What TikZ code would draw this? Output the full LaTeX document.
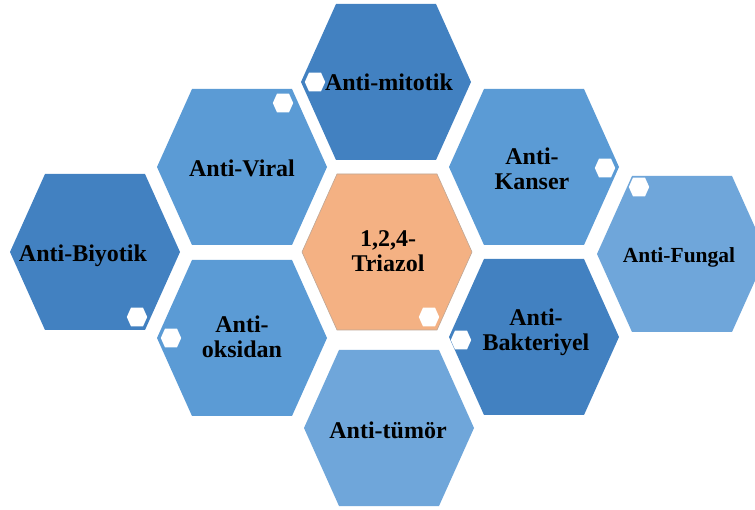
\documentclass[tikz,border=0pt]{standalone}
\usepackage{fontspec}
\setmainfont{Liberation Serif}

\definecolor{hexdark}{RGB}{66,129,193}
\definecolor{hexmid}{RGB}{91,155,213}
\definecolor{hexlight}{RGB}{111,166,218}
\definecolor{hexpeach}{RGB}{244,177,131}

\begin{document}
\begin{tikzpicture}[x=1pt,y=-1pt]
        \tikzstyle{hextext}=[font=\bfseries\fontsize{24}{25}\selectfont, align=center, text=black, inner sep=0pt]
        \tikzset{hexcell/.pic={\path[pic actions] (-85,0) -- (-50,-78) -- (50,-78) -- (85,0) -- (50,78) -- (-50,78) -- cycle;}}
        \clip (0,0) rectangle (755,510);
        \fill[white] (0,0) rectangle (755,510);
        % big cells
        \pic[fill=hexdark] at (386,82) {hexcell};
        \pic[fill=hexmid] at (242,167) {hexcell};
        \pic[fill=hexmid] at (534,167) {hexcell};
        \pic[fill=hexdark] at (95,252) {hexcell};
        \pic[fill=hexpeach, draw=hexpeach!60!black!60, line width=0.6pt] at (387,252) {hexcell};
        \pic[fill=hexlight] at (682,254) {hexcell};
        \pic[fill=hexmid] at (242,338) {hexcell};
        \pic[fill=hexdark] at (534,337) {hexcell};
        \pic[fill=hexlight] at (389,428) {hexcell};
        % small white cells
        \foreach \px/\py in {315/82, 283/103, 605/168, 137/317, 429/317, 639/187, 171/338, 461/340}
          \pic[fill=white, scale=0.12] at (\px,\py) {hexcell};
        % texts
        \node[hextext] (mitotik) at (389,82) {Anti-mitotik};
        \node[hextext] (viral) at (242,168) {Anti-Viral};
        \node[hextext] (kanser) at (532,169) {Anti-\\Kanser};
        \node[hextext] (biyotik) at (83,256) {Anti-Biyotik};
        \node[hextext] (triazol) at (388,251) {1,2,4-\\Triazol};
        \node[hextext, font=\bfseries\fontsize{21.5}{23}\selectfont] (fungal) at (679,257) {Anti-Fungal};
        \node[hextext] (oksidan) at (242,337) {Anti-\\oksidan};
        \node[hextext] (bakteriyel) at (536,332) {Anti-\\Bakteriyel};
        \node[hextext] (tumor) at (388,430) {Anti-tümör};
      \end{tikzpicture}
\end{document}
